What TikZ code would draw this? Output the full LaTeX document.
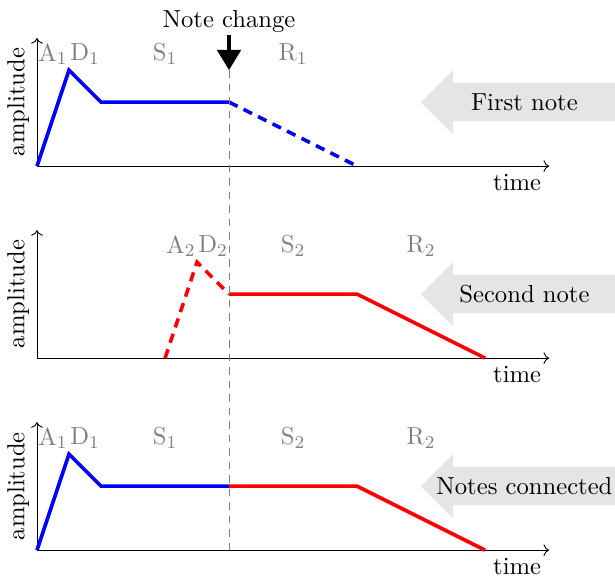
\documentclass[tikz,border=0pt]{standalone}
\usetikzlibrary{arrows.meta}
\begin{document}
\begin{tikzpicture}[x=0.5cm,y=0.5cm]
\tikzset{
  every node/.style={font=\fontsize{10.95}{13.6}\selectfont},
  axis/.style={->, black},
  lbl/.style={text=gray, inner sep=1pt},
  env/.style={ultra thick},
  rel/.style={dash pattern=on 4.2pt off 3pt},
  banner/.style={fill=gray!20, draw=none},
  changeline/.style={gray, thin, dash pattern=on 3.5pt off 2.5pt},
  bigarrow/.style={line width=1.5pt, -{Triangle[width=10.5pt,length=9pt]}}
}
\useasboundingbox (-1.156,-12.875) rectangle (18.06,5.19);

% ---------- plot 1 ----------
\begin{scope}[shift={(0,0)}]
  \coordinate (o1) at (0,0);
  \coordinate (xe1) at (16,0);
  \coordinate (ye1) at (0,4);
  \draw[axis] (o1) -- (xe1) node[below left] (t1) {time};
  \draw[axis] (o1) -- (ye1);
  \node[above, rotate=90] (am1) at (0,2) {amplitude};
  \coordinate (p1a) at (1,3);
  \coordinate (p1d) at (2,2);
  \coordinate (p1s) at (6,2);
  \coordinate (p1r) at (10,0);
  \draw[env, blue] (o1) -- (p1a) -- (p1d) -- (p1s);
  \draw[env, blue, rel] (p1s) -- (p1r);
  \node[lbl] (la1) at (0.5,3.5) {A$_1$};
  \node[lbl] (ld1) at (1.5,3.5) {D$_1$};
  \node[lbl] (ls1) at (4,3.5) {S$_1$};
  \node[lbl] (lr1) at (8,3.5) {R$_1$};
  \fill[banner] (12,2) -- (13,3) -- (13,2.6) -- (18.06,2.6) -- (18.06,1.4) -- (13,1.4) -- (13,1) -- cycle;
  \node (b1) at (15.23,2) {First note};
\end{scope}

% ---------- plot 2 ----------
\begin{scope}[shift={(0,-6)}]
  \coordinate (o2) at (0,0);
  \coordinate (xe2) at (16,0);
  \coordinate (ye2) at (0,4);
  \draw[axis] (o2) -- (xe2) node[below left] (t2) {time};
  \draw[axis] (o2) -- (ye2);
  \node[above, rotate=90] (am2) at (0,2) {amplitude};
  \coordinate (p2o) at (4,0);
  \coordinate (p2a) at (5,3);
  \coordinate (p2d) at (6,2);
  \coordinate (p2s) at (10,2);
  \coordinate (p2r) at (14,0);
  \draw[env, red, rel] (p2o) -- (p2a) -- (p2d);
  \draw[env, red] (p2d) -- (p2s) -- (p2r);
  \node[lbl] (la2) at (4.5,3.5) {A$_2$};
  \node[lbl] (ld2) at (5.5,3.5) {D$_2$};
  \node[lbl] (ls2) at (8,3.5) {S$_2$};
  \node[lbl] (lr2) at (12,3.5) {R$_2$};
  \fill[banner] (12,2) -- (13,3) -- (13,2.6) -- (18.06,2.6) -- (18.06,1.4) -- (13,1.4) -- (13,1) -- cycle;
  \node (b2) at (15.23,2) {Second note};
\end{scope}

% ---------- plot 3 ----------
\begin{scope}[shift={(0,-12)}]
  \coordinate (o3) at (0,0);
  \coordinate (xe3) at (16,0);
  \coordinate (ye3) at (0,4);
  \draw[axis] (o3) -- (xe3) node[below left] (t3) {time};
  \draw[axis] (o3) -- (ye3);
  \node[above, rotate=90] (am3) at (0,2) {amplitude};
  \coordinate (p3a) at (1,3);
  \coordinate (p3d) at (2,2);
  \coordinate (p3s) at (6,2);
  \coordinate (p3e) at (10,2);
  \coordinate (p3r) at (14,0);
  \draw[env, blue] (o3) -- (p3a) -- (p3d) -- (p3s);
  \draw[env, red] (p3s) -- (p3e) -- (p3r);
  \node[lbl] (la3) at (0.5,3.5) {A$_1$};
  \node[lbl] (ld3) at (1.5,3.5) {D$_1$};
  \node[lbl] (ls3) at (4,3.5) {S$_1$};
  \node[lbl] (ls3b) at (8,3.5) {S$_2$};
  \node[lbl] (lr3) at (12,3.5) {R$_2$};
  \fill[banner] (12,2) -- (13,3) -- (13,2.6) -- (18.06,2.6) -- (18.06,1.4) -- (13,1.4) -- (13,1) -- cycle;
  \node (b3) at (15.23,2) {Notes connected};
  \coordinate (cb) at (6,0);
\end{scope}

% ---------- note change ----------
\coordinate (ctip) at (6,3);
\node[inner sep=1pt] (nc) at (6,4.53) {Note change};
\draw[changeline] (ctip) -- (cb);
\draw[bigarrow] (nc.south) -- (ctip);
\end{tikzpicture}
\end{document}
